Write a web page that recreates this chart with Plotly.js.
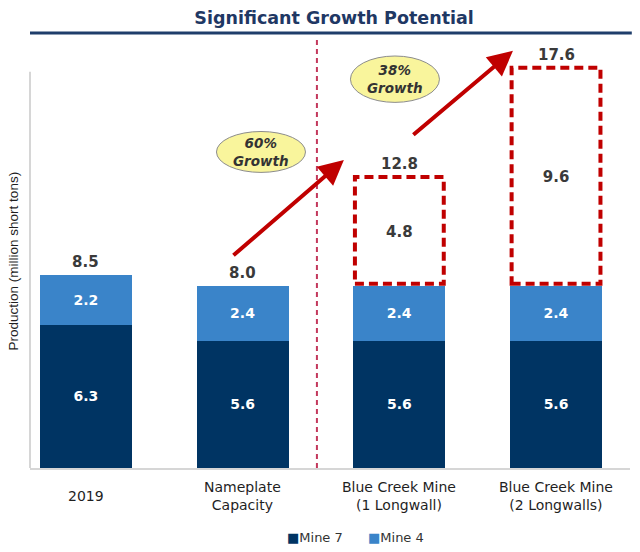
<!DOCTYPE html>
<html>
<head>
<meta charset="utf-8">
<script src="https://cdn.plot.ly/plotly-3.0.1.min.js"></script>
<style>html,body{margin:0;padding:0;background:#fff;}#chart{width:640px;height:552px;}</style>
</head>
<body>
<div id="chart"></div>
<script>
// ---- data ----
var categories = ['2019', 'Nameplate<br>Capacity', 'Blue Creek Mine<br>(1 Longwall)', 'Blue Creek Mine<br>(2 Longwalls)'];
var mine7 = [6.3, 5.6, 5.6, 5.6];
var mine4 = [2.2, 2.4, 2.4, 2.4];
var blueCreekAdd = [null, null, 4.8, 9.6];
var totals = [8.5, 8.0, 12.8, 17.6];
var growthLabels = ['60%', '38%'];
var seriesNames = ['Mine 7', 'Mine 4'];
var seriesColors = ['#003463', '#3a84c9'];
var yTitle = 'Production (million short tons)';
var chartTitle = 'Significant Growth Potential';

// ---- build ----
var FONT = 'DejaVu Sans, Verdana, sans-serif';
var xs = categories.map(function (c, i) { return i; });
var BW = 0.587;

var base = mine7.map(function (v, i) { return v + mine4[i]; });

var traces = [
  {type: 'bar', x: xs, y: mine7, name: seriesNames[0], marker: {color: seriesColors[0]},
   width: BW, texttemplate: '%{y:.1f}', textposition: 'inside', insidetextanchor: 'middle',
   textangle: 0, textfont: {color: '#ffffff', size: 14, family: FONT, weight: 'bold'}, hoverinfo: 'none'},
  {type: 'bar', x: xs, y: mine4, name: seriesNames[1], marker: {color: seriesColors[1]},
   width: BW, texttemplate: '%{y:.1f}', textposition: 'inside', insidetextanchor: 'middle',
   textangle: 0, textfont: {color: '#ffffff', size: 14, family: FONT, weight: 'bold'}, hoverinfo: 'none'},
  {type: 'bar', x: xs, y: blueCreekAdd, name: 'Blue Creek', showlegend: false,
   marker: {color: 'rgba(0,0,0,0)'}, width: BW, texttemplate: '%{y:.1f}', textposition: 'inside',
   insidetextanchor: 'middle', textangle: 0,
   textfont: {color: '#3a3a3a', size: 15, family: FONT, weight: 'bold'}, hoverinfo: 'none'}
];

var shapes = [];
var annotations = [];

// dashed boxes for Blue Creek additions
blueCreekAdd.forEach(function (v, i) {
  if (v == null) return;
  shapes.push({type: 'rect', xref: 'x', yref: 'y', x0: i - BW / 2 + 0.01, x1: i + BW / 2 - 0.01,
    y0: base[i] + 0.1, y1: base[i] + v, line: {color: '#c00000', width: 4, dash: '9px,5px'},
    fillcolor: 'rgba(0,0,0,0)'});
});

// totals
totals.forEach(function (t, i) {
  annotations.push({xref: 'x', yref: 'y', x: i, y: t, text: '<b>' + t.toFixed(1) + '</b>',
    showarrow: false, yanchor: 'bottom', yshift: 2,
    font: {family: FONT, size: 15, color: '#3a3a3a'}});
});

// category labels
categories.forEach(function (c, i) {
  annotations.push({xref: 'x', yref: 'paper', x: i, y: -0.065, text: c, showarrow: false,
    yanchor: 'middle', align: 'center', font: {family: FONT, size: 14, color: '#1f1f1f'}});
});

// y title
annotations.push({xref: 'paper', yref: 'paper', x: -0.027, y: 0.48, text: yTitle, textangle: -90,
  showarrow: false, xanchor: 'center', yanchor: 'middle',
  font: {family: 'Liberation Sans, Arial, sans-serif', size: 13.5, color: '#1f1f1f'}});

// custom legend
var legX = [0.425, 0.56];
seriesNames.forEach(function (n, k) {
  annotations.push({xref: 'paper', yref: 'paper', x: legX[k], y: -0.162, xanchor: 'left', yanchor: 'middle',
    showarrow: false, text: '<span style="color:' + seriesColors[k] + '">■</span>' + n,
    font: {family: FONT, size: 13, color: '#333333'}});
});

// arrows
annotations.push({xref: 'x', yref: 'y', axref: 'x', ayref: 'y', x: 1.646, y: 13.55, ax: 0.932, ay: 9.3,
  text: '', showarrow: true, arrowhead: 2, arrowsize: 1.25, arrowwidth: 4, arrowcolor: '#c00000', standoff: 0});
annotations.push({xref: 'x', yref: 'y', axref: 'x', ayref: 'y', x: 2.725, y: 18.35, ax: 2.08, ay: 14.6,
  text: '', showarrow: true, arrowhead: 2, arrowsize: 1.25, arrowwidth: 4, arrowcolor: '#c00000', standoff: 0});

// growth ellipses
var ell = [{cx: 1.117, cy: 13.9, w: 0.284, h: 0.9}, {cx: 1.972, cy: 17.1, w: 0.284, h: 1.02}];
ell.forEach(function (e, k) {
  shapes.push({type: 'circle', xref: 'x', yref: 'y', x0: e.cx - e.w, x1: e.cx + e.w,
    y0: e.cy - e.h, y1: e.cy + e.h, fillcolor: '#f9f59c', line: {color: '#8c8c8c', width: 1}});
  annotations.push({xref: 'x', yref: 'y', x: e.cx, y: e.cy, showarrow: false,
    text: '<b><i>' + growthLabels[k] + '</i></b><br><b><i>Growth</i></b>',
    font: {family: FONT, size: 13.5, color: '#333333'}, align: 'center'});
});

// divider
shapes.push({type: 'line', xref: 'x', yref: 'paper', x0: 1.474, x1: 1.474, y0: 0, y1: 0.995,
  line: {color: '#c3385c', width: 2, dash: '5px,4px'}});
// left axis line
shapes.push({type: 'line', xref: 'paper', yref: 'paper', x0: 0, x1: 0, y0: 0, y1: 0.917,
  line: {color: '#d6d6d6', width: 2}});
// title underline
shapes.push({type: 'line', xref: 'paper', yref: 'paper', x0: 0, x1: 1.003, y0: 1.007, y1: 1.007,
  line: {color: '#1f3e6b', width: 3}});

var layout = {
  width: 640, height: 552,
  margin: {l: 30, r: 10, t: 36, b: 84},
  paper_bgcolor: '#ffffff', plot_bgcolor: '#ffffff',
  barmode: 'stack',
  title: {text: '<b>' + chartTitle + '</b>', x: 0.522, xref: 'container', xanchor: 'center',
    y: 0.967, yref: 'container', yanchor: 'middle',
    font: {family: FONT, size: 17.5, color: '#1f3864'}},
  xaxis: {range: [-0.357, 3.472], showgrid: false, zeroline: false, showticklabels: false,
    ticks: '', showline: true, linecolor: '#d6d6d6', linewidth: 2, fixedrange: true},
  yaxis: {range: [0, 19.0], showgrid: false, zeroline: false, showticklabels: false, ticks: '',
    showline: false, fixedrange: true},
  showlegend: false,
  shapes: shapes,
  annotations: annotations
};

Plotly.newPlot('chart', traces, layout, {displayModeBar: false, staticPlot: true});
</script>
</body>
</html>
